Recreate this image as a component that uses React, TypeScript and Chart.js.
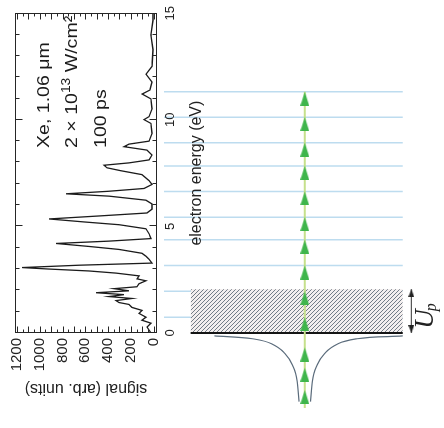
import React, { useEffect, useRef } from "react";
import { Chart, registerables } from "chart.js";

Chart.register(...registerables);

// ---------------- spectrum data ----------------
const energyEV = [
  0, 0.14, 0.28, 0.46, 0.6, 0.74, 0.92, 1.06, 1.2, 1.34, 1.43, 1.52, 1.62, 1.71, 1.8,
  1.89, 1.98, 2.08, 2.17, 2.31, 2.45, 2.54, 2.68, 2.81, 2.91, 3.0, 3.07, 3.18, 3.28, 3.46,
  3.6, 3.74, 3.92, 4.06, 4.2, 4.31, 4.43, 4.66, 4.89, 5.08, 5.21, 5.35, 5.49, 5.63, 5.81,
  6.05, 6.23, 6.42, 6.53, 6.65, 6.78, 6.97, 7.15, 7.43, 7.61, 7.75, 7.87, 7.98, 8.12, 8.35,
  8.58, 8.74, 8.86, 9.0, 9.37, 9.83, 10.01, 10.15, 10.52, 10.98, 11.21, 11.4, 11.77, 12.14, 12.51,
  13.29, 13.98, 14.67, 15,
];
const signalArb = [
  23, 40, 58, 23, 102, 67, 128, 102, 190, 216, 304, 330, 190, 392, 260,
  506, 216, 348, 146, 128, 67, 146, 128, 330, 568, 919, 1157, 656, 14, 40,
  67, 102, 304, 568, 858, 392, 23, 40, 67, 304, 612, 919, 480, 58, 14,
  14, 67, 392, 770, 392, 84, 14, 40, 102, 286, 410, 436, 216, 40, 14,
  58, 260, 216, 40, 14, 23, 84, 40, 14, 23, 100, 32, 14, 67, 14,
  5, 23, 5, 5,
];
const energyTickValues = [0, 5, 10, 15];
const signalTickValues = [0, 200, 400, 600, 800, 1000, 1200];
const conditionsText = ["Xe, 1.06 μm", "2 × 10", "13", " W/cm²", "100 ps"];

// ---------------- diagram data ----------------
const levelEnergies = [0.73, 1.94, 3.14, 4.34, 5.39, 6.59, 7.78, 8.86, 10.05, 11.23];
const arrowTipEnergies = [-2.66, -1.62, -0.68, 0.73, 1.94, 3.14, 4.34, 5.39, 6.59, 7.78, 8.86, 10.05, 11.23];
const ponderomotiveEnergy = 2.04;
const potentialLeftX = [-9.5, -5.5, -3.5, -2.2, -1.3, -0.8, -0.6];
const potentialLeftE = [-0.14, -0.27, -0.5, -0.9, -1.49, -2.25, -3.2];
const potentialRightX = [0.6, 0.8, 1.3, 2.2, 3.5, 5.5, 10.3];
const potentialRightE = [-3.2, -2.25, -1.49, -0.9, -0.5, -0.27, -0.14];
const ladderBottomEnergy = -3.5;

const SANS = '"Liberation Sans", Arial, Helvetica, sans-serif';
const SERIF = '"Liberation Serif", "Times New Roman", serif';

const framePlugin = {
  id: "frameTicks",
  afterDatasetsDraw(chart: any) {
    const { ctx, chartArea: a, scales } = chart;
    const x = scales.x, y = scales.y;
    ctx.save();
    ctx.strokeStyle = "#262626";
    ctx.lineWidth = 1;
    const L = Math.round(a.left) + 0.5, R = Math.round(a.right) - 0.5;
    const T = Math.round(a.top) + 0.5, B = Math.round(a.bottom) - 0.5;
    ctx.strokeRect(L, T, R - L, B - T);
    ctx.beginPath();
    for (let e = 1; e < 15; e++) {
      const px = Math.round(x.getPixelForValue(e)) + 0.5;
      const len = e % 5 === 0 ? 7 : 4;
      ctx.moveTo(px, T); ctx.lineTo(px, T + len);
      ctx.moveTo(px, B); ctx.lineTo(px, B - len);
    }
    for (let s = 0; s <= 1200; s += 50) {
      const py = Math.round(y.getPixelForValue(s)) + 0.5;
      const len = s % 100 === 0 ? 6 : 3;
      ctx.moveTo(L, py); ctx.lineTo(L + len, py);
      ctx.moveTo(R, py); ctx.lineTo(R - len, py);
    }
    ctx.stroke();
    ctx.restore();
  },
};

const conditionsPlugin = {
  id: "conditions",
  afterDraw(chart: any) {
    const { ctx, scales } = chart;
    const x = scales.x, y = scales.y;
    const big = `17px ${SANS}`, small = `12px ${SANS}`;
    const stretch = 1.15;
    ctx.save();
    ctx.fillStyle = "#1b1b1b";
    ctx.textAlign = "left";
    ctx.textBaseline = "alphabetic";
    const runs = (items: [string, string, number][], px: number, py: number) => {
      let cx = px;
      for (const [t, f, dy] of items) {
        ctx.font = f;
        ctx.save();
        ctx.translate(cx, py + dy);
        ctx.scale(stretch, 1);
        ctx.fillText(t, 0, 0);
        ctx.restore();
        cx += ctx.measureText(t).width * stretch;
      }
    };
    const x0 = x.getPixelForValue(8.68);
    runs([[conditionsText[0], big, 0]], x0, y.getPixelForValue(919));
    runs([[conditionsText[1], big, 0], [conditionsText[2], small, -7], [conditionsText[3], big, 0]], x0, y.getPixelForValue(673));
    runs([[conditionsText[4], big, 0]], x0, y.getPixelForValue(418));
    ctx.restore();
  },
};

const upLabelPlugin = {
  id: "upLabel",
  afterDraw(chart: any) {
    const { ctx, scales } = chart;
    const px = scales.x.getPixelForValue(13.5);
    const py = scales.y.getPixelForValue(0.2);
    ctx.save();
    ctx.translate(px, py);
    ctx.rotate(-Math.PI / 2);
    ctx.fillStyle = "#222";
    ctx.textBaseline = "alphabetic";
    ctx.textAlign = "left";
    ctx.font = `italic 27px ${SERIF}`;
    ctx.fillText("U", 0, 0);
    const w = ctx.measureText("U").width;
    ctx.font = `italic 16px ${SERIF}`;
    ctx.fillText("p", w - 2, 3);
    ctx.restore();
  },
};

function makeHead(w: number, h: number, color: string, dir: "up" | "down") {
  const c = document.createElement("canvas");
  c.width = w;
  c.height = h * 2;
  const g = c.getContext("2d")!;
  g.fillStyle = color;
  g.beginPath();
  if (dir === "up") {
    g.moveTo(w / 2, h);
    g.lineTo(w, h * 2);
    g.lineTo(0, h * 2);
  } else {
    g.moveTo(w / 2, h);
    g.lineTo(w, 0);
    g.lineTo(0, 0);
  }
  g.closePath();
  g.fill();
  return c;
}

function makeHatch() {
  const c = document.createElement("canvas");
  c.width = 4;
  c.height = 4;
  const g = c.getContext("2d")!;
  g.fillStyle = "#f3eeee";
  g.fillRect(0, 0, 4, 4);
  g.strokeStyle = "#737c86";
  g.lineWidth = 1;
  g.beginPath();
  g.moveTo(-1, 5); g.lineTo(5, -1);
  g.moveTo(-1, 1); g.lineTo(1, -1);
  g.moveTo(3, 5); g.lineTo(5, 3);
  g.stroke();
  return g.createPattern(c, "repeat");
}

export default function App() {
  const specRef = useRef<HTMLCanvasElement | null>(null);
  const diagRef = useRef<HTMLCanvasElement | null>(null);

  useEffect(() => {
    const spec = new Chart(specRef.current!, {
      type: "line",
      data: {
        datasets: [
          {
            data: energyEV.map((e, i) => ({ x: e, y: signalArb[i] })),
            borderColor: "#1b1b1b",
            borderWidth: 1.3,
            pointRadius: 0,
            tension: 0,
            fill: false,
          },
        ],
      },
      options: {
        responsive: false,
        animation: false,
        devicePixelRatio: 1,
        layout: { padding: { left: 0, right: 8, top: 15, bottom: 0 } },
        plugins: { legend: { display: false }, tooltip: { enabled: false } },
        scales: {
          x: {
            type: "linear",
            min: 0,
            max: 15,
            afterBuildTicks: (s: any) => {
              s.ticks = energyTickValues.map((v) => ({ value: v }));
            },
            ticks: {
              font: { size: 13, family: SANS },
              color: "#222",
              padding: 6,
              maxRotation: 0,
              autoSkip: false,
              callback: (v: any) => String(v),
            },
            grid: { display: false, drawTicks: false },
            border: { display: false },
            title: {
              display: true,
              text: "electron energy (eV)",
              font: { size: 16, family: SANS },
              color: "#222",
              padding: { top: 0, bottom: 6 },
            },
            afterFit: (s: any) => {
              s.height = 55;
            },
          },
          y: {
            type: "linear",
            min: -30,
            max: 1218,
            afterBuildTicks: (s: any) => {
              s.ticks = signalTickValues.map((v) => ({ value: v }));
            },
            ticks: {
              font: { size: 15, family: SANS },
              color: "#222",
              padding: 5,
              callback: (v: any) => String(v),
            },
            grid: { display: false, drawTicks: false },
            border: { display: false },
            title: {
              display: true,
              text: "signal (arb. units)",
              font: { size: 16, family: SANS },
              color: "#222",
              padding: { top: 30, bottom: 0 },
            },
            afterFit: (s: any) => {
              s.width = 95;
            },
          },
        },
      } as any,
      plugins: [framePlugin, conditionsPlugin],
    });

    const greenHead = makeHead(9, 14, "#3fb54c", "up");
    const upHead = makeHead(6, 8, "#222", "up");
    const downHead = makeHead(6, 8, "#222", "down");
    const hatch = makeHatch();

    const LEVEL_X0 = -14.8, LEVEL_X1 = 10.3, BOX_X0 = -12.0, BOX_X1 = 10.3, UP_X = 11.2;

    const diag = new Chart(diagRef.current!, {
      type: "line",
      data: {
        datasets: [
          ...levelEnergies.map((e) => ({
            data: [{ x: LEVEL_X0, y: e }, { x: LEVEL_X1, y: e }],
            borderColor: "#bddcef",
            borderWidth: 1.5,
            pointRadius: 0,
            order: 10,
          })),
          {
            data: [{ x: BOX_X0, y: ponderomotiveEnergy }, { x: BOX_X1, y: ponderomotiveEnergy }],
            borderColor: "rgba(0,0,0,0)",
            borderWidth: 0,
            pointRadius: 0,
            fill: "origin",
            backgroundColor: hatch,
            order: 9,
          },
          {
            data: [{ x: BOX_X0, y: 0 }, { x: BOX_X1, y: 0 }],
            borderColor: "#141414",
            borderWidth: 2,
            pointRadius: 0,
            order: 8,
          },
          {
            data: potentialLeftX.map((v, i) => ({ x: v, y: potentialLeftE[i] })),
            borderColor: "#5a6b7b",
            borderWidth: 1.2,
            pointRadius: 0,
            cubicInterpolationMode: "monotone",
            order: 7,
          },
          {
            data: potentialRightX.map((v, i) => ({ x: v, y: potentialRightE[i] })),
            borderColor: "#5a6b7b",
            borderWidth: 1.2,
            pointRadius: 0,
            cubicInterpolationMode: "monotone",
            order: 7,
          },
          {
            data: [{ x: 0, y: ladderBottomEnergy }, { x: 0, y: levelEnergies[levelEnergies.length - 1] }],
            borderColor: "#c6e08c",
            borderWidth: 2,
            pointRadius: 0,
            order: 6,
          },
          {
            data: arrowTipEnergies.map((e) => ({ x: 0, y: e })),
            showLine: false,
            pointStyle: greenHead,
            pointRadius: 6,
            order: 5,
          },
          {
            data: [{ x: UP_X, y: 0 }, { x: UP_X, y: ponderomotiveEnergy }],
            borderColor: "#333",
            borderWidth: 1,
            pointStyle: [downHead, upHead],
            pointRadius: 4,
            order: 4,
          },
        ],
      },
      options: {
        responsive: false,
        animation: false,
        devicePixelRatio: 1,
        layout: { padding: 0 },
        plugins: { legend: { display: false }, tooltip: { enabled: false } },
        scales: {
          x: { type: "linear", display: false, min: -14.8, max: 13.9 },
          y: { type: "linear", display: false, min: -4.1, max: 15.18 },
        },
      } as any,
      plugins: [upLabelPlugin],
    });

    return () => {
      spec.destroy();
      diag.destroy();
    };
  }, []);

  return (
    <div
      style={{
        position: "fixed",
        left: 0,
        top: 0,
        width: 444,
        height: 428,
        background: "#ffffff",
        overflow: "hidden",
      }}
    >
      <canvas
        ref={diagRef}
        width={287}
        height={428}
        style={{ position: "absolute", left: 157, top: 0, width: 287, height: 428 }}
      />
      <canvas
        ref={specRef}
        width={428}
        height={212}
        style={{
          position: "absolute",
          left: 0,
          top: 0,
          width: 428,
          height: 212,
          transformOrigin: "0 0",
          transform: "translate(0px, 428px) rotate(-90deg)",
        }}
      />
    </div>
  );
}
